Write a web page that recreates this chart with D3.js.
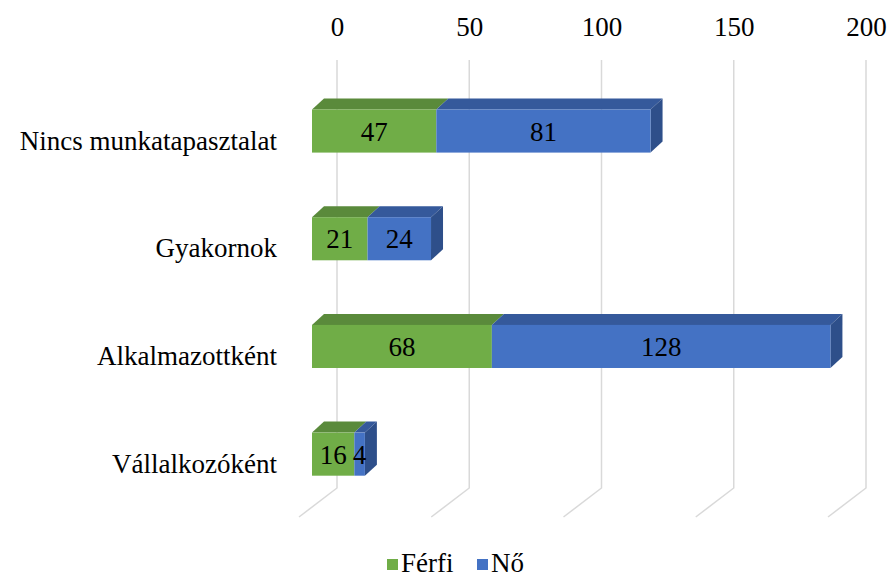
<!DOCTYPE html>
<html>
<head>
<meta charset="utf-8">
<script src="https://cdn.jsdelivr.net/npm/d3@7"></script>
<style>
  body { margin: 0; background: #fff; }
</style>
</head>
<body>
<div id="chart"></div>
<script>
// data
var categories = ["Nincs munkatapasztalat", "Gyakornok", "Alkalmazottként", "Vállalkozóként"];
var ferfi = [47, 21, 68, 16];
var no = [81, 24, 128, 4];
var ticks = [0, 50, 100, 150, 200];
var seriesNames = ["Férfi", "Nő"];

var WIDTH = 891, HEIGHT = 578;
var FRONT_SHIFT = 25;      // bar front plane sits this far left of the back wall
var DX = 12, DY = -11;     // bar depth
var FLOOR_DX = -38, FLOOR_DY = 29;
var FS = 27;
var FONT = "'Liberation Serif', 'DejaVu Serif', serif";

var colors = {
    front: ["#70ad47", "#4472c4"],
    top:   ["#5a8a3b", "#35599b"],
    side:  ["#4e7a33", "#2e4f8a"]
};

var svg = d3.select("#chart").append("svg")
    .attr("width", WIDTH)
    .attr("height", HEIGHT)
    .attr("font-family", FONT);

// back wall scale
var xBack = d3.scaleLinear()
    .domain([0, 200])
    .range([337, 866]);

function xFront(v) { return xBack(v) - FRONT_SHIFT; }

var yScale = d3.scaleBand()
    .domain(categories)
    .range([77.2, 508])
    .paddingInner(0.6)
    .paddingOuter(0.3);

var GRID_TOP = 60, GRID_BOTTOM = 488;

// gridlines with floor edge
svg.append("g").selectAll("path")
    .data(ticks)
    .enter()
    .append("path")
    .attr("d", function(t) {
        var x = xBack(t);
        return "M" + x + "," + GRID_TOP + "L" + x + "," + GRID_BOTTOM +
            "L" + (x + FLOOR_DX) + "," + (GRID_BOTTOM + FLOOR_DY);
    })
    .attr("fill", "none")
    .attr("stroke", "#d9d9d9")
    .attr("stroke-width", 1.5);

// top axis labels
var axis = svg.append("g")
    .attr("transform", "translate(0,36)")
    .call(d3.axisTop(xBack).tickValues(ticks).tickSize(0).tickPadding(0));
axis.select(".domain").remove();
axis.attr("font-family", FONT).attr("font-size", FS);
axis.selectAll("text")
    .attr("fill", "#000");

// stacked segments
var segs = [];
categories.forEach(function(c, i) {
    var vals = [ferfi[i], no[i]];
    var start = 0;
    vals.forEach(function(v, k) {
        segs.push({cat: c, k: k, s: start, e: start + v, v: v, last: k === vals.length - 1});
        start += v;
    });
});

var bars = svg.append("g");
var bw = yScale.bandwidth();

// top faces
bars.selectAll(".top")
    .data(segs)
    .enter()
    .append("path")
    .attr("class", "top")
    .attr("d", function(d) {
        var x0 = xFront(d.s), x1 = xFront(d.e), y = yScale(d.cat);
        return "M" + x0 + "," + y + "L" + x1 + "," + y + "L" + (x1 + DX) + "," + (y + DY) +
            "L" + (x0 + DX) + "," + (y + DY) + "Z";
    })
    .attr("fill", function(d) { return colors.top[d.k]; });

// side face of last segment
bars.selectAll(".side")
    .data(segs.filter(function(d) { return d.last; }))
    .enter()
    .append("path")
    .attr("class", "side")
    .attr("d", function(d) {
        var x1 = xFront(d.e), y = yScale(d.cat);
        return "M" + x1 + "," + y + "L" + (x1 + DX) + "," + (y + DY) + "L" + (x1 + DX) + "," + (y + bw + DY) +
            "L" + x1 + "," + (y + bw) + "Z";
    })
    .attr("fill", function(d) { return colors.side[d.k]; });

// front faces
bars.selectAll(".front")
    .data(segs)
    .enter()
    .append("rect")
    .attr("class", "front")
    .attr("x", function(d) { return xFront(d.s); })
    .attr("y", function(d) { return yScale(d.cat); })
    .attr("width", function(d) { return xFront(d.e) - xFront(d.s); })
    .attr("height", bw)
    .attr("fill", function(d) { return colors.front[d.k]; });

// value labels
bars.selectAll(".val")
    .data(segs)
    .enter()
    .append("text")
    .attr("class", "val")
    .attr("x", function(d) { return (xFront(d.s) + xFront(d.e)) / 2; })
    .attr("y", function(d) { return yScale(d.cat) + bw / 2; })
    .attr("dy", "0.35em")
    .attr("text-anchor", "middle")
    .attr("font-size", FS)
    .text(function(d) { return d.v; });

// category labels
svg.append("g").selectAll("text")
    .data(categories)
    .enter()
    .append("text")
    .attr("x", 277)
    .attr("y", function(c) { return yScale(c) + bw / 2 + 9; })
    .attr("dy", "0.35em")
    .attr("text-anchor", "end")
    .attr("font-size", FS)
    .text(function(c) { return c; });

// legend
var legendX = [387, 477];
var legend = svg.append("g").selectAll("g")
    .data(seriesNames)
    .enter()
    .append("g")
    .attr("transform", function(d, i) { return "translate(" + legendX[i] + ",0)"; });
legend.append("rect")
    .attr("x", 0)
    .attr("y", 559)
    .attr("width", 11)
    .attr("height", 11)
    .attr("fill", function(d, i) { return colors.front[i]; });
legend.append("text")
    .attr("x", 14)
    .attr("y", 572)
    .attr("font-size", FS)
    .text(function(d) { return d; });
</script>
</body>
</html>
